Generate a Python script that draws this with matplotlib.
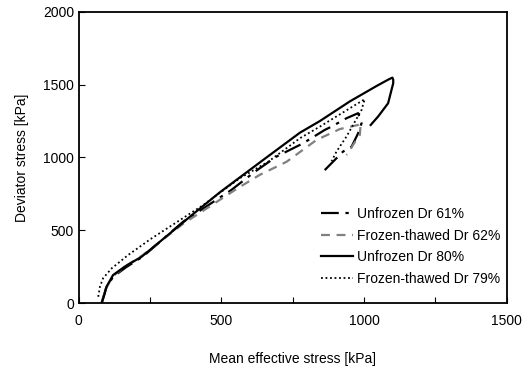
import matplotlib
matplotlib.use("Agg")
import matplotlib.pyplot as plt
from matplotlib.ticker import MultipleLocator

plt.rcParams['font.family'] = ['Liberation Sans', 'DejaVu Sans']

# mean effective stress p' [kPa], deviator stress q [kPa]
p_unf61 = [80, 95, 120, 165, 225, 366, 535, 617, 693, 786, 862, 886, 938, 979, 991, 979, 956, 926, 874, 851]
q_unf61 = [0, 100, 180, 245, 320, 559, 777, 902, 1006, 1097, 1189, 1212, 1269, 1304, 1235, 1166, 1074, 1040, 937, 891]

p_ft62 = [80, 95, 120, 165, 225, 366, 558, 634, 728, 833, 915, 979, 988, 985, 961, 944, 938]
q_ft62 = [0, 100, 185, 255, 330, 545, 790, 880, 970, 1120, 1195, 1223, 1237, 1155, 1086, 1029, 1017]

p_unf80 = [80, 90, 97, 120, 161, 220, 262, 400, 494, 658, 775, 845, 950, 1043, 1085, 1099, 1102, 1102, 1084, 1049, 1023]
q_unf80 = [0, 60, 112, 192, 250, 318, 385, 610, 760, 1000, 1170, 1250, 1385, 1490, 1535, 1548, 1535, 1510, 1372, 1281, 1223]

p_ft79 = [68, 74, 85, 115, 173, 252, 436, 564, 664, 775, 845, 1002, 991, 938, 903, 886]
q_ft79 = [43, 112, 170, 238, 330, 440, 673, 857, 971, 1132, 1212, 1400, 1326, 1143, 1040, 975]

fig = plt.figure(figsize=(5.29, 3.70), dpi=100)
ax = fig.add_axes([0.149, 0.181, 0.809, 0.787])

ax.plot(p_unf61, q_unf61, color='black', lw=1.6, ls=(0, (8, 3, 1.5, 3)), label='Unfrozen Dr 61%')
ax.plot(p_ft62, q_ft62, color='#808080', lw=1.6, ls=(0, (4, 3)), label='Frozen-thawed Dr 62%')
ax.plot(p_unf80, q_unf80, color='black', lw=1.6, ls='-', label='Unfrozen Dr 80%')
ax.plot(p_ft79, q_ft79, color='black', lw=1.3, ls=(0, (1, 1.5)), label='Frozen-thawed Dr 79%')

ax.set_xlim(0, 1500)
ax.set_ylim(0, 2000)
ax.xaxis.set_major_locator(MultipleLocator(500))
ax.xaxis.set_minor_locator(MultipleLocator(250))
ax.yaxis.set_major_locator(MultipleLocator(500))
ax.tick_params(which='both', direction='in', length=4, width=0.8, labelsize=10)
ax.tick_params(axis='x', pad=8)
for s in ax.spines.values():
    s.set_linewidth(1.3)

ax.set_xlabel('Mean effective stress [kPa]', fontsize=10, labelpad=17)
ax.set_ylabel('Deviator stress [kPa]', fontsize=10, labelpad=10)

ax.legend(loc='lower left', bbox_to_anchor=(0.55, 0.035), frameon=False, fontsize=10,
          handlelength=2.3, handletextpad=0.3, labelspacing=0.55, borderpad=0)

fig.savefig('out.png', dpi=100)
